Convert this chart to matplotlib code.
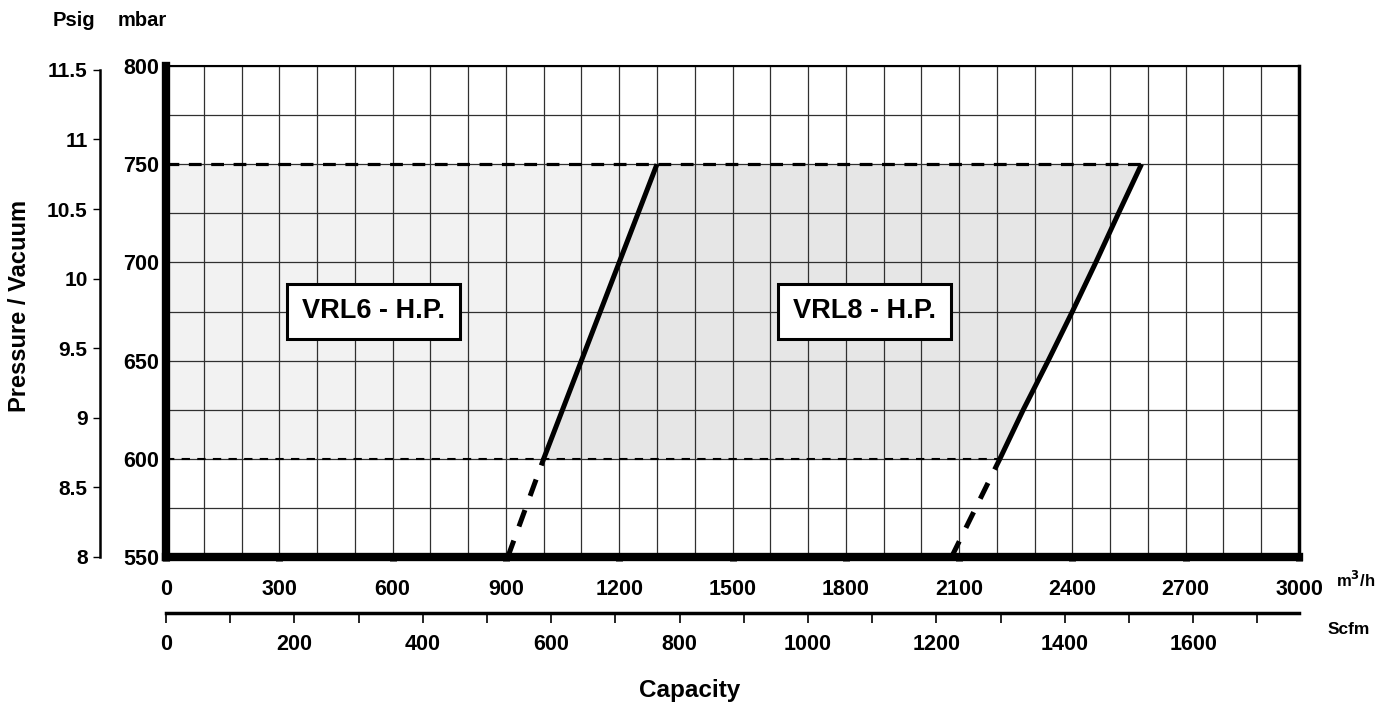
import numpy as np
import matplotlib
matplotlib.use("Agg")
import matplotlib.pyplot as plt

plt.rcParams['font.family'] = ['Liberation Sans', 'DejaVu Sans']
plt.rcParams['font.weight'] = 'bold'

# ---- data ----
cap_ticks = [0, 300, 600, 900, 1200, 1500, 1800, 2100, 2400, 2700, 3000]
mbar_ticks = [550, 600, 650, 700, 750, 800]
psig_ticks = [8, 8.5, 9, 9.5, 10, 10.5, 11, 11.5]
psig_labels = ['8', '8.5', '9', '9.5', '10', '10.5', '11', '11.5']
scfm_ticks = list(range(0, 1800, 100))
scfm_labels = [str(v) if v % 200 == 0 else '' for v in scfm_ticks]

vrl6_x = [1000, 1100, 1200, 1250, 1300]
vrl6_y = [600, 650, 700, 725, 750]
vrl6_dash_x = [905, 1000]
vrl6_dash_y = [550, 600]

vrl8_x = [2208, 2270, 2336, 2400, 2462, 2522, 2583]
vrl8_y = [600, 625, 650, 675, 700, 725, 750]
vrl8_dash_x = [2080, 2208]
vrl8_dash_y = [550, 600]

labels = ['VRL6 - H.P.', 'VRL8 - H.P.']
label_x = [550, 1850]
label_y = [675, 675]

M3H_PER_SCFM = 1.7

# ---- figure ----
fig = plt.figure(figsize=(13.8, 7.04), dpi=100)
ax = fig.add_axes([166/1380, 1 - 557/704, (1299 - 166)/1380, (557 - 66)/704])
ax.set_xlim(0, 3000)
ax.set_ylim(550, 800)

# shaded regions
ax.fill_betweenx(vrl6_y, 0, vrl6_x, color='#f2f2f2', lw=0, zorder=0.5)
ax.fill(np.concatenate([vrl6_x, vrl8_x[::-1]]),
        np.concatenate([vrl6_y, vrl8_y[::-1]]),
        color='#e6e6e6', lw=0, zorder=0.5)

# grid
ax.set_xticks(cap_ticks)
ax.set_xticks(np.arange(0, 3001, 100), minor=True)
ax.set_yticks(mbar_ticks)
ax.set_yticks(np.arange(550, 801, 25), minor=True)
ax.grid(True, which='both', color='#303030', lw=0.9, zorder=1)
ax.set_axisbelow(True)

# dashed limit lines
ax.plot([0, vrl8_x[-1]], [vrl6_y[-1], vrl8_y[-1]], color='black', lw=2.3,
        ls=(0, (4, 3)), zorder=3)
ax.plot([0, vrl8_x[0]], [vrl6_y[0], vrl8_y[0]], color='black', lw=1.5,
        ls=(0, (4, 3.5)), zorder=3)

# curves
for xs, ys, dx, dy in [(vrl6_x, vrl6_y, vrl6_dash_x, vrl6_dash_y),
                       (vrl8_x, vrl8_y, vrl8_dash_x, vrl8_dash_y)]:
    ax.plot(xs, ys, color='black', lw=3.6, solid_capstyle='butt', zorder=4)
    ax.plot(dx, dy, color='black', lw=3.6, ls=(0, (3.5, 3)), zorder=4)

for t, x, y in zip(labels, label_x, label_y):
    ax.text(x, y, t, ha='center', va='center', fontsize=19.5, fontweight='bold',
            zorder=6,
            bbox=dict(boxstyle='square,pad=0.55', fc='white', ec='black', lw=2.2))

# spines
ax.spines['left'].set_linewidth(6)
ax.spines['bottom'].set_linewidth(6)
ax.spines['right'].set_linewidth(2.5)
ax.spines['top'].set_linewidth(1.5)
for s in ax.spines.values():
    s.set_zorder(5)

ax.tick_params(axis='both', which='major', direction='out', length=3, width=5,
               labelsize=15.5)
ax.tick_params(axis='x', which='major', pad=13)
ax.tick_params(axis='y', which='major', pad=2)
ax.tick_params(which='minor', length=0)
ax.set_xticklabels([str(v) for v in cap_ticks], fontweight='bold')
ax.set_yticklabels([str(v) for v in mbar_ticks], fontweight='bold')

# secondary scfm axis
sec = ax.secondary_xaxis(-0.114, functions=(lambda x: x / M3H_PER_SCFM,
                                            lambda x: x * M3H_PER_SCFM))
sec.set_xticks(scfm_ticks)
sec.set_xticklabels(scfm_labels, fontweight='bold')
sec.spines['bottom'].set_linewidth(2.5)
sec.tick_params(axis='x', direction='out', length=7, width=1.2, labelsize=15.5, pad=8)

# psig axis
ax2 = ax.twinx()
ax2.set_ylim(8.028, 11.528)
for k in ['top', 'right', 'bottom']:
    ax2.spines[k].set_visible(False)
ax2.spines['left'].set_visible(True)
ax2.spines['left'].set_position(('outward', 66 * 0.72))
ax2.spines['left'].set_bounds(8, 11.5)
ax2.spines['left'].set_linewidth(1.8)
ax2.yaxis.set_ticks_position('left')
ax2.yaxis.set_label_position('left')
ax2.set_yticks(psig_ticks)
ax2.set_yticklabels(psig_labels, fontweight='bold')
ax2.tick_params(axis='y', direction='out', length=5, width=1, labelsize=15, pad=4)

# texts
fig.text(73.5/1380, 1 - 21/704, 'Psig', ha='center', va='center', fontsize=14.5, fontweight='bold')
fig.text(142/1380, 1 - 21/704, 'mbar', ha='center', va='center', fontsize=14.5, fontweight='bold')
fig.text(1356/1380, 1 - 580/704, 'm$^{3}$/h', ha='center', va='center', fontsize=12, fontweight='bold')
fig.text(1349/1380, 1 - 629/704, 'Scfm', ha='center', va='center', fontsize=12.5, fontweight='bold')
fig.text(690/1380, 1 - 691/704, 'Capacity', ha='center', va='center', fontsize=17.5, fontweight='bold')
fig.text(20/1380, 1 - 306/704, 'Pressure / Vacuum', ha='center', va='center', rotation=90,
         fontsize=17, fontweight='bold')

fig.savefig('out.png', dpi=100)
